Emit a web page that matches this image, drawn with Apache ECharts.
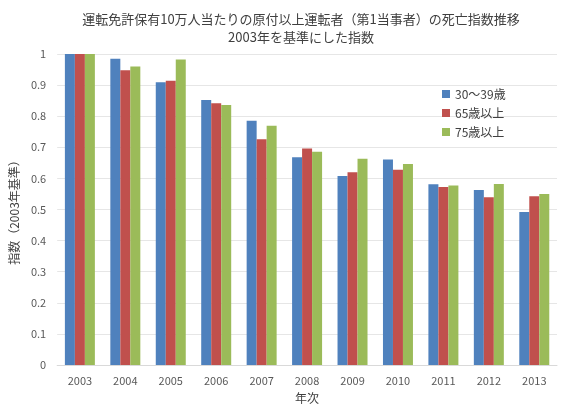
<!DOCTYPE html>
<html>
<head>
<meta charset="utf-8">
<script src="https://cdn.jsdelivr.net/npm/echarts@6/dist/echarts.min.js"></script>
<style>
html,body{margin:0;padding:0;background:#fff;}
#chart{width:568px;height:412px;}
</style>
</head>
<body>
<div id="chart"></div>
<script>
var years = ['2003','2004','2005','2006','2007','2008','2009','2010','2011','2012','2013'];
var age30 = [1, 0.985, 0.909, 0.852, 0.785, 0.668, 0.608, 0.661, 0.581, 0.563, 0.492];
var age65 = [1, 0.948, 0.914, 0.842, 0.726, 0.696, 0.620, 0.628, 0.572, 0.539, 0.543];
var age75 = [1, 0.960, 0.982, 0.836, 0.769, 0.686, 0.663, 0.646, 0.577, 0.582, 0.550];
var names = ['30～39歳', '65歳以上', '75歳以上'];

var font = '"Noto Sans CJK JP", "Noto Sans", sans-serif';
var chart = echarts.init(document.getElementById('chart'));

var option = {
    animation: false,
    textStyle: {fontFamily: font},
    title: {
        text: '運転免許保有10万人当たりの原付以上運転者（第1当事者）の死亡指数推移\n2003年を基準にした指数',
        left: 296,
        top: 5,
        textAlign: 'center',
        textStyle: {fontSize: 13, fontWeight: 'normal', color: '#404040', lineHeight: 18, fontFamily: font}
    },
    legend: {
        data: names,
        orient: 'vertical',
        left: 437,
        top: 83,
        itemWidth: 8,
        itemHeight: 8,
        itemGap: 7,
        icon: 'rect',
        textStyle: {fontSize: 12, color: '#404040', fontFamily: font}
    },
    grid: {left: 53, right: 11, top: 54, bottom: 47},
    xAxis: {
        type: 'category',
        data: years,
        name: '年次',
        nameLocation: 'middle',
        nameGap: 27,
        nameTextStyle: {fontSize: 12, color: '#404040'},
        axisLine: {lineStyle: {color: '#d9d9d9'}},
        axisTick: {show: false},
        axisLabel: {fontSize: 11, color: '#595959', margin: 10}
    },
    yAxis: {
        type: 'value',
        min: 0,
        max: 1,
        interval: 0.1,
        name: '指数（2003年基準）',
        nameLocation: 'middle',
        nameGap: 26,
        nameTextStyle: {fontSize: 12, color: '#404040'},
        axisLine: {show: false},
        axisTick: {show: false},
        axisLabel: {fontSize: 11, color: '#595959', margin: 11},
        splitLine: {lineStyle: {color: '#e6e6e6'}}
    },
    series: [
        {name: names[0], type: 'bar', data: age30, barGap: '0%', barCategoryGap: '34%', itemStyle: {color: '#4F81BD'}},
        {name: names[1], type: 'bar', data: age65, barGap: '0%', barCategoryGap: '34%', itemStyle: {color: '#C0504D'}},
        {name: names[2], type: 'bar', data: age75, barGap: '0%', barCategoryGap: '34%', itemStyle: {color: '#9BBB59'}}
    ]
};
chart.setOption(option);
</script>
</body>
</html>
